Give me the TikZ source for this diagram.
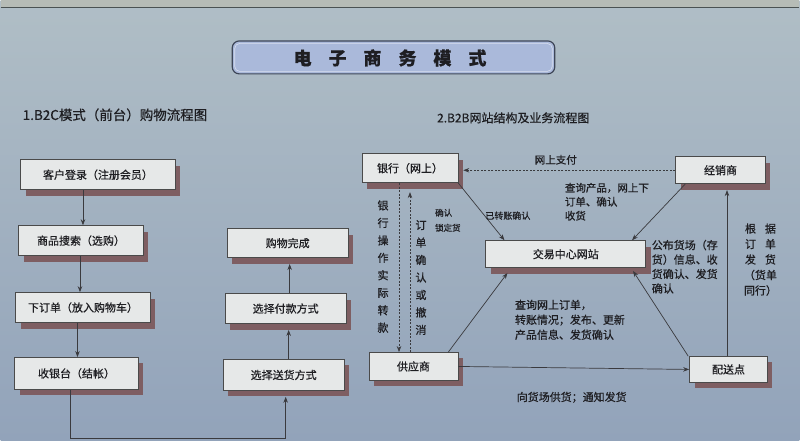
\documentclass[tikz,border=0pt]{standalone}
\usepackage{fontspec}
\setmainfont[FakeBold=0.6]{Noto Sans CJK SC}
\usetikzlibrary{shadows,arrows.meta,calc}
\definecolor{bgtop}{HTML}{B0BEC6}
\definecolor{bgbot}{HTML}{92A3BA}
\definecolor{bandc}{HTML}{B6BCB6}
\definecolor{bandline}{HTML}{4A5252}
\definecolor{boxfill}{HTML}{E6E8E8}
\definecolor{boxline}{HTML}{4A4A4A}
\definecolor{shadowc}{HTML}{7E5E62}
\definecolor{ink}{HTML}{1E1E22}
\definecolor{titlefill}{HTML}{AAB9DA}
\definecolor{titleline}{HTML}{3E4658}
\definecolor{linec}{HTML}{3A3A3E}
\begin{document}
\begin{tikzpicture}[x=1pt,y=-1pt,
  box/.style={draw=boxline, line width=0.8pt, fill=boxfill, inner sep=0pt, text=ink,
    font=\fontsize{11}{13}\selectfont,
    drop shadow={shadow xshift=5pt, shadow yshift=-6pt, fill=shadowc, opacity=1}},
  arr/.style={draw=linec, line width=0.7pt, -{Stealth[length=6pt,width=4.5pt]}},
  dsh/.style={dash pattern=on 2pt off 1.5pt},
  lbl/.style={text=ink, inner sep=0pt, font=\fontsize{10.5}{14.5}\selectfont},
  vlbl/.style={text=ink, inner sep=0pt, align=center, font=\fontsize{11}{17.5}\selectfont},
  head/.style={text=ink, inner sep=0pt, anchor=west},
]
% background
\fill[top color=bgtop, bottom color=bgbot] (0,0) rectangle (800,441);
\fill[bandc] (0,0) rectangle (800,7);
\draw[bandline, line width=1.2pt] (0,7.5) -- (800,7.5);

% title
\node[draw=titleline, line width=1.2pt, fill=titlefill, rounded corners=7pt,
      minimum width=323pt, minimum height=33pt] (title) at (393.5,57.5) {};
\node[draw=white!55!titlefill, line width=0.6pt, rounded corners=5pt,
      minimum width=318pt, minimum height=28pt] (titlein) at (393.5,57.5) {};
\node[text=ink, font=\fontsize{18}{20}\selectfont\bfseries] (titletext) at (390,58)
  {电\hspace{17pt}子\hspace{17pt}商\hspace{17pt}务\hspace{17pt}模\hspace{17pt}式};

% section headers
\node[head, font=\fontsize{13.5}{15}\selectfont] (h1) at (22,115) {1.B2C模式（前台）购物流程图};
\node[head, font=\fontsize{12}{14}\selectfont] (h2) at (437,118) {2.B2B网站结构及业务流程图};

% B2C boxes
\node[box, minimum width=155pt, minimum height=30pt] (A) at (97.5,175) {客户登录（注册会员）};
\node[box, minimum width=125pt, minimum height=30pt] (B) at (80.5,241) {商品搜索（选购）};
\node[box, minimum width=135pt, minimum height=30pt] (C) at (82.5,308) {下订单（放入购物车）};
\node[box, minimum width=124pt, minimum height=32pt] (D) at (76,374) {收银台（结帐）};
\node[box, minimum width=121pt, minimum height=29pt] (E) at (287.5,243.5) {购物完成};
\node[box, minimum width=121pt, minimum height=30pt] (F) at (285.5,309) {选择付款方式};
\node[box, minimum width=121pt, minimum height=31pt] (G) at (283.5,375.5) {选择送货方式};

\draw[arr] ([xshift=2pt]A.south -| B.north) -- ([xshift=2pt]B.north);
\draw[arr] ([xshift=-1pt]B.south) -- ([xshift=-1pt]B.south |- C.north);
\draw[arr] ([xshift=1pt]C.south -| D.north) -- ([xshift=1pt]D.north);
\coordinate (turn) at (180,439);
\draw[arr] ([xshift=-6pt]D.south) |- (turn) -| ([xshift=2pt,yshift=-6pt]G.south);
\draw[arr] ([xshift=5pt]G.north) -- ([xshift=5pt,yshift=-6pt]G.north |- F.south);
\draw[arr] ([xshift=4pt]F.north) -- ([xshift=4pt,yshift=-6pt]F.north |- E.south);

% B2B boxes
\node[box, minimum width=96pt, minimum height=29pt] (bank) at (410,168.5) {银行（网上）};
\node[box, minimum width=90pt, minimum height=27pt] (dist) at (721,170.5) {经销商};
\node[box, minimum width=160pt, minimum height=27pt] (hub) at (566,254.5) {交易中心网站};
\node[box, minimum width=89pt, minimum height=28pt] (supp) at (413.5,367) {供应商};
\node[box, minimum width=78pt, minimum height=26pt] (deliv) at (729,370) {配送点};

% B2B connectors
\draw[arr, dsh] (dist.west) -- ([xshift=5pt]dist.west -| bank.east);
\draw[arr] (bank.south east) -- ([xshift=19pt]hub.north west);
\draw[arr] ([xshift=10pt]dist.south west) -- ([xshift=-14pt]hub.north east);
\draw[arr] ([xshift=-10pt]supp.north east) -- ([xshift=22pt,yshift=-5pt]hub.south west);
\draw[arr] ([xshift=-1pt]deliv.north west) -- ([xshift=-13pt,yshift=-3pt]hub.south east);
\draw[arr] (supp.east) -- (deliv.west);
\draw[arr] ([xshift=-1.5pt]deliv.north) -- ($([xshift=-1.5pt]deliv.north |- dist.south)+(0,6)$);
\draw[arr, dsh] ([xshift=-11pt]bank.south) -- ([xshift=-11pt]bank.south |- supp.north);
\draw[arr, dsh] (bank.south |- supp.north) -- ($(bank.south)+(0,9)$);

% B2B labels
\node[lbl] (l1) at (556,160) {网上支付};
\node[lbl, anchor=north west, align=left, font=\fontsize{10.5}{14}\selectfont] (l2) at (565,183)
  {查询产品，网上下\\订单、确认\\收货};
\node[lbl, font=\fontsize{9}{11}\selectfont] (l3) at (508,216) {已转账确认};
\node[lbl, anchor=north west, align=left, font=\fontsize{8.5}{15}\selectfont] (l4) at (435,209)
  {确认\\锁定货};
\node[vlbl] (l5) at (383,267) {银\\行\\操\\作\\实\\际\\转\\款};
\node[vlbl] (l6) at (421,278) {订\\单\\确\\认\\或\\撤\\消};
\node[lbl, anchor=north west, align=left, font=\fontsize{11}{14.5}\selectfont] (l7) at (652,240)
  {公布货场（存\\货）信息、收\\货确认、发货\\确认};
\node[lbl, anchor=north west, align=left, font=\fontsize{11}{15}\selectfont] (l8) at (515,300)
  {查询网上订单，\\转账情况；发布、更新\\产品信息、发货确认};
\node[lbl, font=\fontsize{11}{13}\selectfont] (l9) at (572,398) {向货场供货；通知发货};
\node[vlbl, font=\fontsize{11}{15.5}\selectfont] (l10) at (761,260)
  {根\hspace{9pt}据\\订\hspace{9pt}单\\发\hspace{9pt}货\\（货单\\同行）};
\end{tikzpicture}
\end{document}
